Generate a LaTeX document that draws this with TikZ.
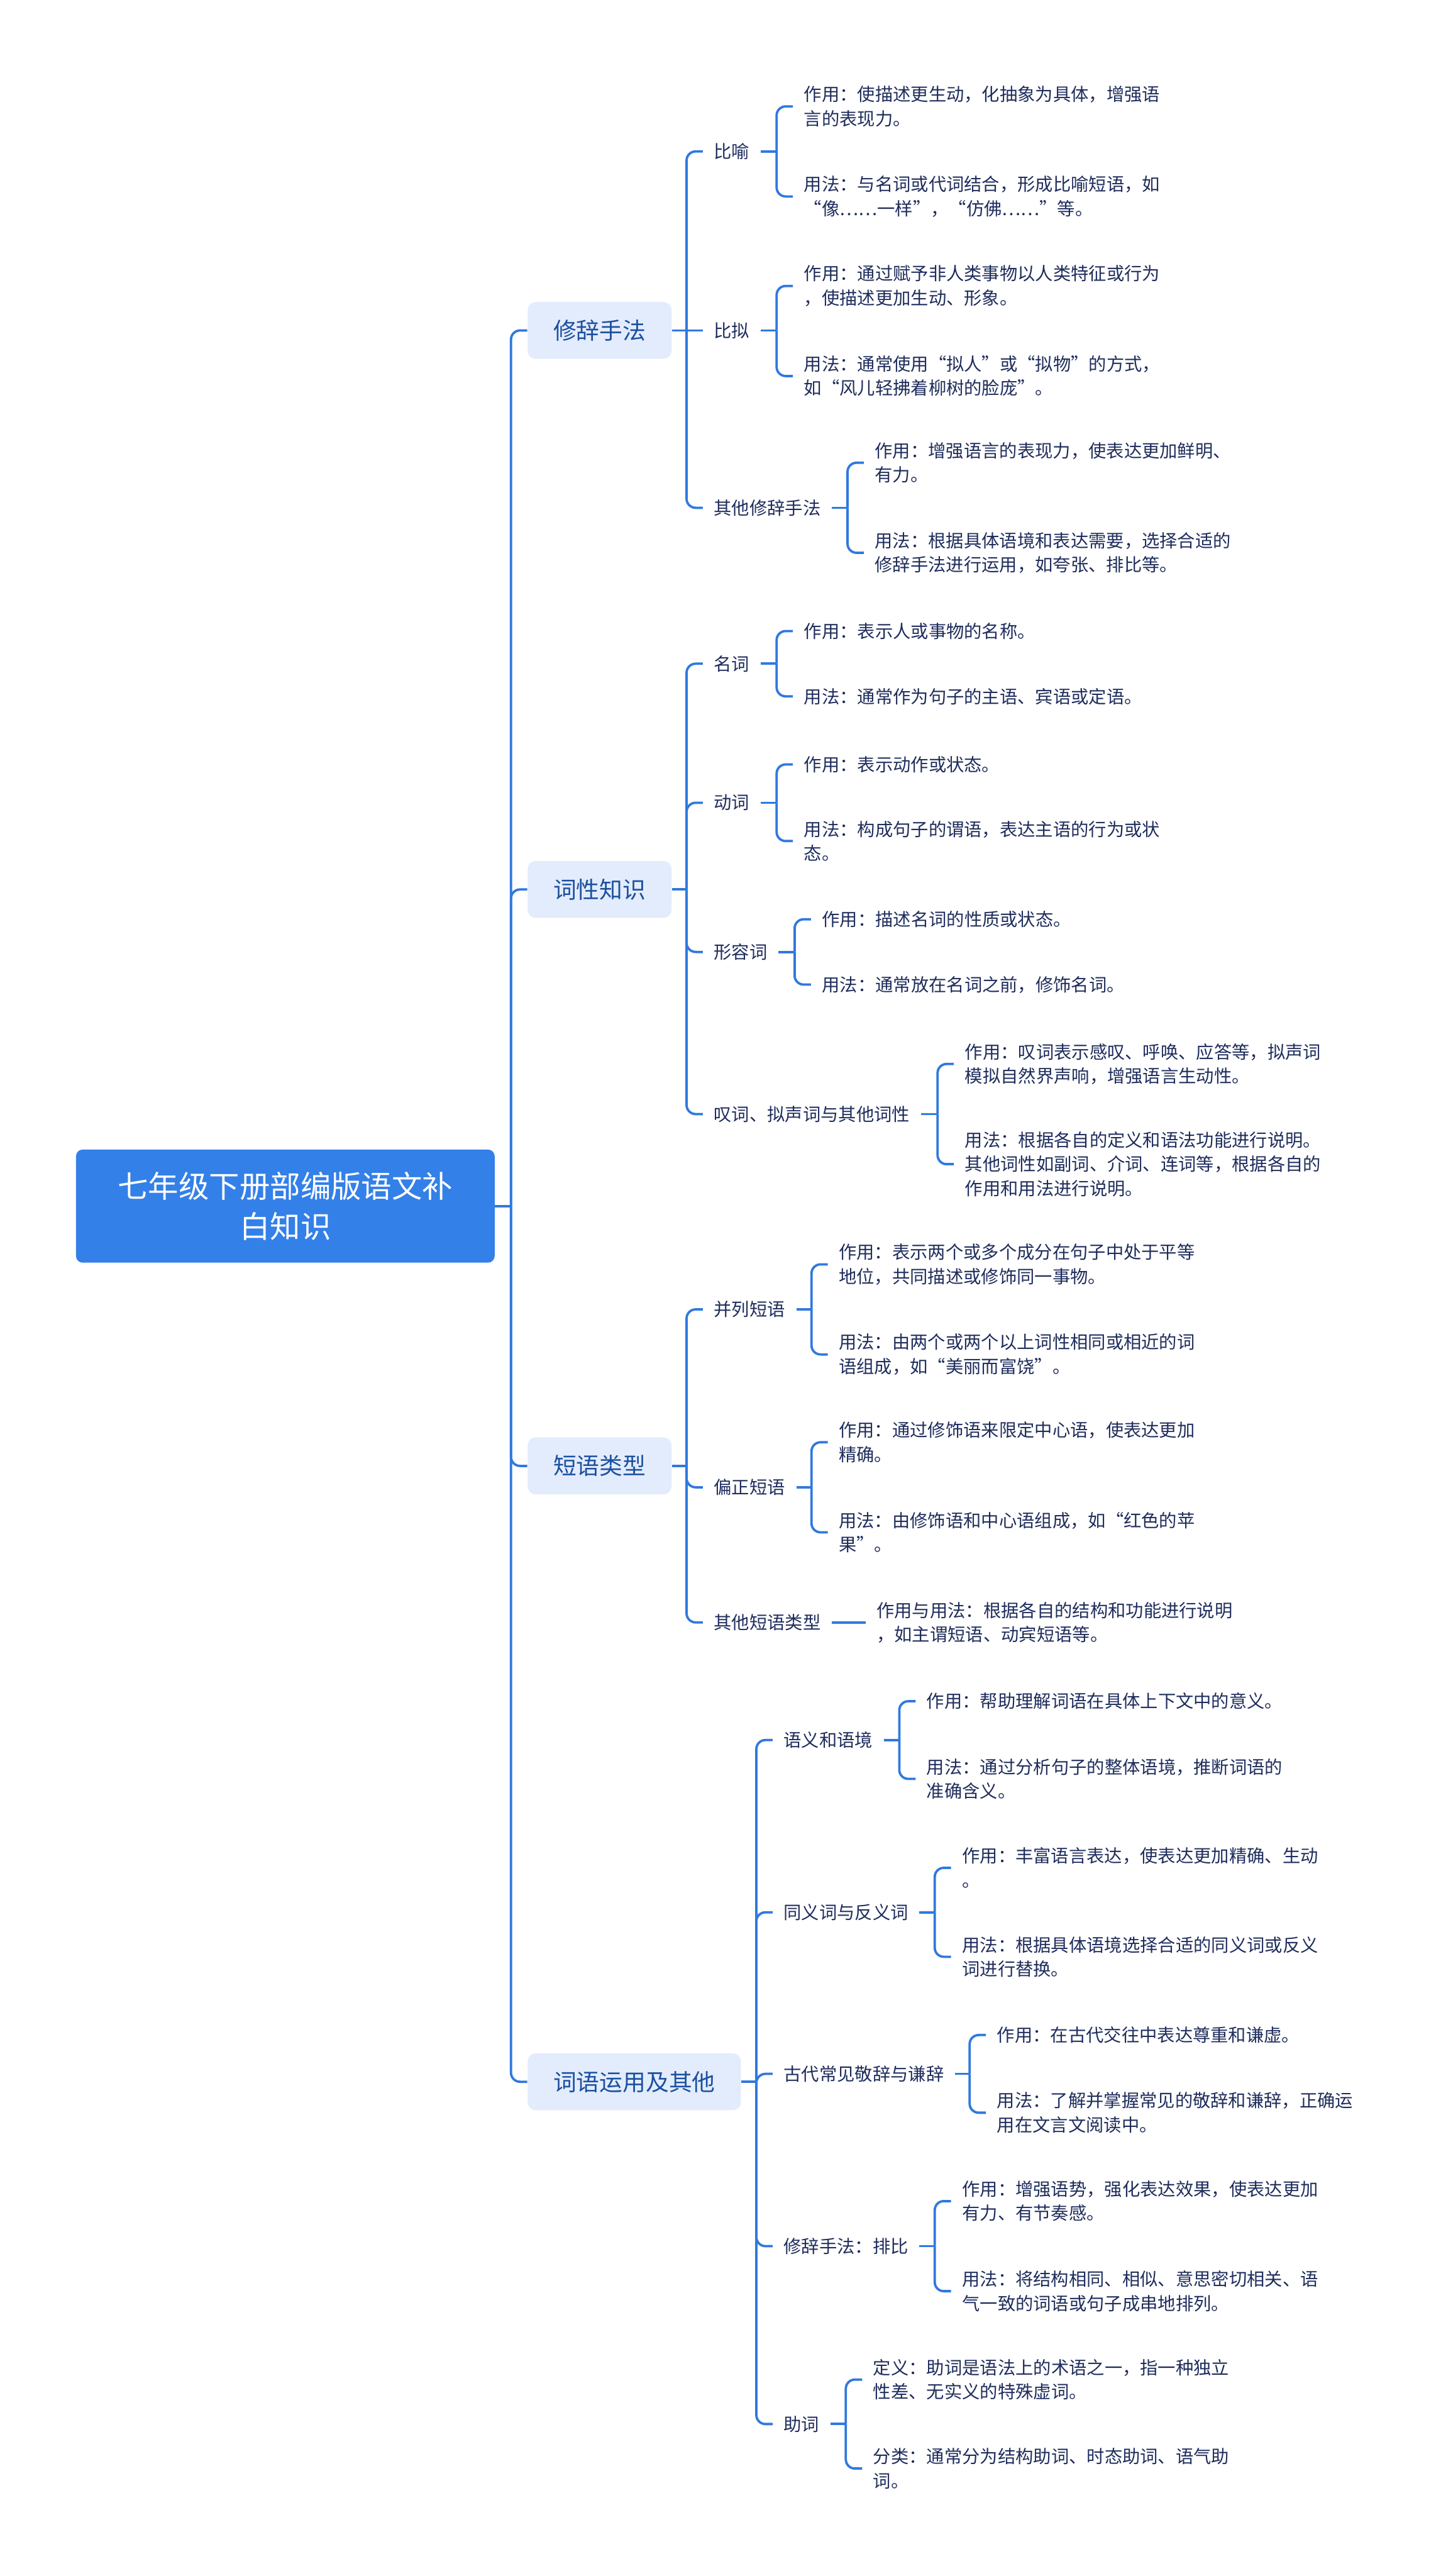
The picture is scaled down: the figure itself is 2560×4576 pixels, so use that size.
\documentclass[tikz,border=0pt]{standalone}
\usepackage{fontspec}
\setmainfont{Noto Sans CJK SC}
\usetikzlibrary{calc}
\definecolor{lineblue}{HTML}{3079DE}
\definecolor{rootblue}{HTML}{3380E8}
\definecolor{lonefill}{HTML}{E3ECFC}
\definecolor{lonetext}{HTML}{1C50A0}
\definecolor{leaftext}{HTML}{1F2D5C}
\newcommand{\brk}[2]{% parent, first child -> bracket coordinate
  \coordinate (#1-b) at ($(#1.east -| #2.west)+(-29,0)$);
  \draw[conn] (#1.east) -- (#1-b);}
\newcommand{\hook}[2]{\draw[conn] (#1-b) |- (#2.west);}
\begin{document}
\begin{tikzpicture}[x=0.1mm,y=-0.1mm,
  conn/.style={draw=lineblue, line width=0.42mm, rounded corners=1.6mm},
  rootbox/.style={fill=rootblue, rounded corners=1.2mm, text=white, minimum width=74.4mm, minimum height=20.1mm, align=center, inner sep=0pt, font=\fontsize{15.4pt}{20.2pt}\selectfont},
  topic/.style={fill=lonefill, rounded corners=1.4mm, text=lonetext, minimum height=10.1mm, inner xsep=4.55mm, inner ysep=0pt, anchor=west, font=\fontsize{11.7pt}{14pt}\selectfont},
  sub/.style={anchor=west, inner xsep=1.9mm, inner ysep=0.8mm, text=leaftext, font=\fontsize{9pt}{12.2pt}\selectfont},
  leaf/.style={sub, align=left},
]
\useasboundingbox (0,0) rectangle (2560,4576);
\fill[white] (0,0) rectangle (2560,4576);

% root
\node[rootbox] (root) at (507,2142.5) {七年级下册部编版语文补\\白知识};

% level 1
\node[topic] (t1) at (937,587) {修辞手法};
\node[topic] (t2) at (937,1580) {词性知识};
\node[topic] (t3) at (937,2604) {短语类型};
\node[topic] (t4) at (937,3698) {词语运用及其他};

% level 2 -- section 1
\node[sub] (a1) at (1249,269) {比喻};
\node[sub] (a2) at (1249,587) {比拟};
\node[sub] (a3) at (1249,902) {其他修辞手法};
% section 2
\node[sub] (b1) at (1249,1179) {名词};
\node[sub] (b2) at (1249,1426) {动词};
\node[sub] (b3) at (1249,1691) {形容词};
\node[sub] (b4) at (1249,1979) {叹词、拟声词与其他词性};
% section 3
\node[sub] (c1) at (1249,2326) {并列短语};
\node[sub] (c2) at (1249,2642) {偏正短语};
\node[sub] (c3) at (1249,2882) {其他短语类型};
% section 4
\node[sub] (d1) at (1373,3091) {语义和语境};
\node[sub] (d2) at (1373,3397) {同义词与反义词};
\node[sub] (d3) at (1373,3684) {古代常见敬辞与谦辞};
\node[sub] (d4) at (1373,3990) {修辞手法：排比};
\node[sub] (d5) at (1373,4306) {助词};

% leaves section 1
\node[leaf] (a1x) at (1409,189) {作用：使描述更生动，化抽象为具体，增强语\\言的表现力。};
\node[leaf] (a1y) at (1409,349) {用法：与名词或代词结合，形成比喻短语，如\\“像……一样”，“仿佛……”等。};
\node[leaf] (a2x) at (1409,508) {作用：通过赋予非人类事物以人类特征或行为\\，使描述更加生动、形象。};
\node[leaf] (a2y) at (1409,668) {用法：通常使用“拟人”或“拟物”的方式，\\如“风儿轻拂着柳树的脸庞”。};
\node[leaf] (a3x) at (1535,822) {作用：增强语言的表现力，使表达更加鲜明、\\有力。};
\node[leaf] (a3y) at (1535,982) {用法：根据具体语境和表达需要，选择合适的\\修辞手法进行运用，如夸张、排比等。};

% leaves section 2
\node[leaf] (b1x) at (1409,1121) {作用：表示人或事物的名称。};
\node[leaf] (b1y) at (1409,1237) {用法：通常作为句子的主语、宾语或定语。};
\node[leaf] (b2x) at (1409,1358) {作用：表示动作或状态。};
\node[leaf] (b2y) at (1409,1494) {用法：构成句子的谓语，表达主语的行为或状\\态。};
\node[leaf] (b3x) at (1441,1633) {作用：描述名词的性质或状态。};
\node[leaf] (b3y) at (1441,1749) {用法：通常放在名词之前，修饰名词。};
\node[leaf] (b4x) at (1695,1890) {作用：叹词表示感叹、呼唤、应答等，拟声词\\模拟自然界声响，增强语言生动性。};
\node[leaf] (b4y) at (1695,2068) {用法：根据各自的定义和语法功能进行说明。\\其他词性如副词、介词、连词等，根据各自的\\作用和用法进行说明。};

% leaves section 3
\node[leaf] (c1x) at (1471,2246) {作用：表示两个或多个成分在句子中处于平等\\地位，共同描述或修饰同一事物。};
\node[leaf] (c1y) at (1471,2406) {用法：由两个或两个以上词性相同或相近的词\\语组成，如“美丽而富饶”。};
\node[leaf] (c2x) at (1471,2562) {作用：通过修饰语来限定中心语，使表达更加\\精确。};
\node[leaf] (c2y) at (1471,2722) {用法：由修饰语和中心语组成，如“红色的苹\\果”。};
\node[leaf] (c3x) at (1538,2882) {作用与用法：根据各自的结构和功能进行说明\\，如主谓短语、动宾短语等。};

% leaves section 4
\node[leaf] (d1x) at (1627,3022) {作用：帮助理解词语在具体上下文中的意义。};
\node[leaf] (d1y) at (1627,3160) {用法：通过分析句子的整体语境，推断词语的\\准确含义。};
\node[leaf] (d2x) at (1690,3318) {作用：丰富语言表达，使表达更加精确、生动\\。};
\node[leaf] (d2y) at (1690,3476) {用法：根据具体语境选择合适的同义词或反义\\词进行替换。};
\node[leaf] (d3x) at (1752,3615) {作用：在古代交往中表达尊重和谦虚。};
\node[leaf] (d3y) at (1752,3753) {用法：了解并掌握常见的敬辞和谦辞，正确运\\用在文言文阅读中。};
\node[leaf] (d4x) at (1690,3910) {作用：增强语势，强化表达效果，使表达更加\\有力、有节奏感。};
\node[leaf] (d4y) at (1690,4070) {用法：将结构相同、相似、意思密切相关、语\\气一致的词语或句子成串地排列。};
\node[leaf] (d5x) at (1532,4227) {定义：助词是语法上的术语之一，指一种独立\\性差、无实义的特殊虚词。};
\node[leaf] (d5y) at (1532,4385) {分类：通常分为结构助词、时态助词、语气助\\词。};

% connectors: root -> topics
\brk{root}{t1}
\hook{root}{t1}\hook{root}{t2}\hook{root}{t3}\hook{root}{t4}

% topic 1
\brk{t1}{a1}
\hook{t1}{a1}\draw[conn] (t1-b) -- (a2.west);\hook{t1}{a3}
\brk{a1}{a1x}\hook{a1}{a1x}\hook{a1}{a1y}
\brk{a2}{a2x}\hook{a2}{a2x}\hook{a2}{a2y}
\brk{a3}{a3x}\hook{a3}{a3x}\hook{a3}{a3y}

% topic 2
\brk{t2}{b1}
\hook{t2}{b1}\hook{t2}{b2}\hook{t2}{b3}\hook{t2}{b4}
\brk{b1}{b1x}\hook{b1}{b1x}\hook{b1}{b1y}
\brk{b2}{b2x}\hook{b2}{b2x}\hook{b2}{b2y}
\brk{b3}{b3x}\hook{b3}{b3x}\hook{b3}{b3y}
\brk{b4}{b4x}\hook{b4}{b4x}\hook{b4}{b4y}

% topic 3
\brk{t3}{c1}
\hook{t3}{c1}\hook{t3}{c2}\hook{t3}{c3}
\brk{c1}{c1x}\hook{c1}{c1x}\hook{c1}{c1y}
\brk{c2}{c2x}\hook{c2}{c2x}\hook{c2}{c2y}
\draw[conn] (c3.east) -- (c3x.west);

% topic 4
\brk{t4}{d1}
\hook{t4}{d1}\hook{t4}{d2}\hook{t4}{d3}\hook{t4}{d4}\hook{t4}{d5}
\brk{d1}{d1x}\hook{d1}{d1x}\hook{d1}{d1y}
\brk{d2}{d2x}\hook{d2}{d2x}\hook{d2}{d2y}
\brk{d3}{d3x}\hook{d3}{d3x}\hook{d3}{d3y}
\brk{d4}{d4x}\hook{d4}{d4x}\hook{d4}{d4y}
\brk{d5}{d5x}\hook{d5}{d5x}\hook{d5}{d5y}
\end{tikzpicture}
\end{document}
